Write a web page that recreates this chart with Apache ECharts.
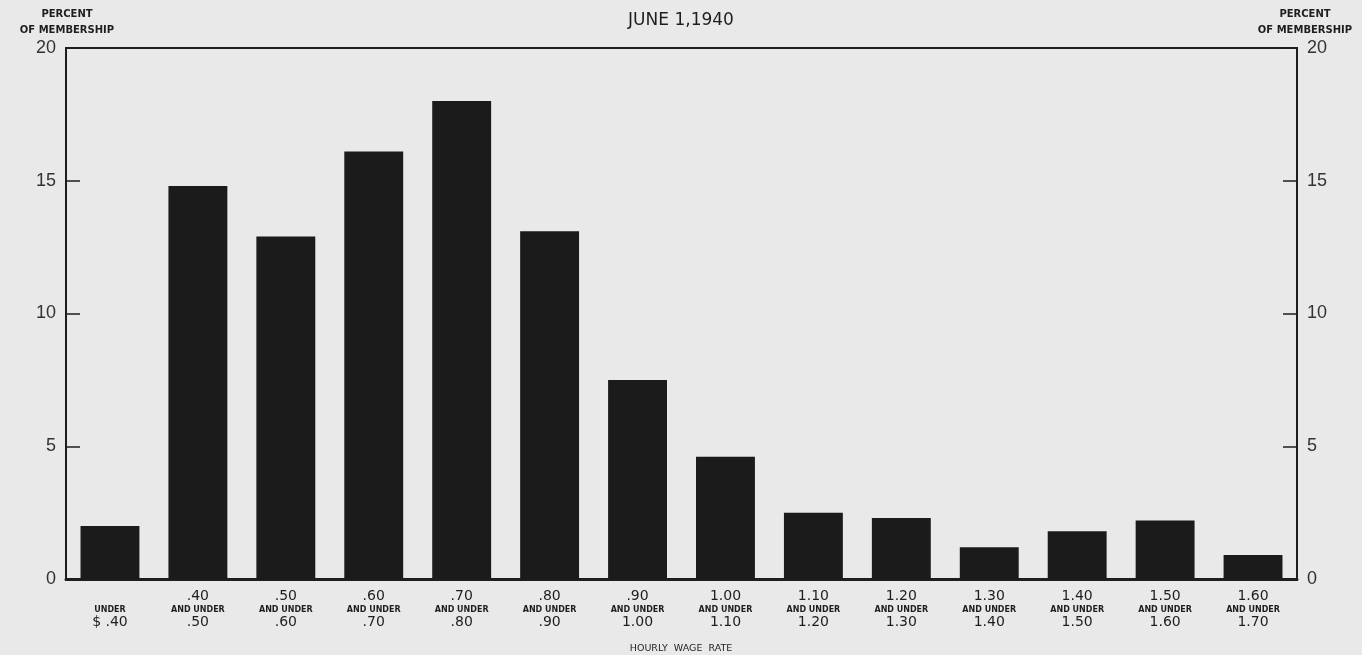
<!DOCTYPE html>
<html><head><meta charset="utf-8">
<script src="https://cdn.jsdelivr.net/npm/echarts@6/dist/echarts.min.js"></script>
<style>html,body{margin:0;padding:0;background:#e9e9e9}#c{width:1362px;height:655px}</style>
</head><body><div id="c"></div>
<script>
const lowerBounds = ['', '.40', '.50', '.60', '.70', '.80', '.90', '1.00', '1.10', '1.20', '1.30', '1.40', '1.50', '1.60'];
const upperBounds = ['$ .40', '.50', '.60', '.70', '.80', '.90', '1.00', '1.10', '1.20', '1.30', '1.40', '1.50', '1.60', '1.70'];
const percentOfMembership = [2.0, 14.8, 12.9, 16.1, 18.0, 13.1, 7.5, 4.6, 2.5, 2.3, 1.2, 1.8, 2.2, 0.9];
const yTicks = [0, 5, 10, 15, 20];

const categories = lowerBounds.map((l, i) => i === 0
  ? '{a| }\n{b|UNDER}\n{a|' + upperBounds[i] + '}'
  : '{a|' + l + '}\n{b|AND UNDER}\n{a|' + upperBounds[i] + '}');

const chart = echarts.init(document.getElementById('c'));
const font = 'Liberation Sans, DejaVu Sans, sans-serif';
const wide = 'DejaVu Sans, Liberation Sans, sans-serif';
const yAxisCommon = {
  type: 'value', min: yTicks[0], max: yTicks[yTicks.length - 1], interval: 5,
  splitLine: { show: false },
  axisLine: { show: true, lineStyle: { color: '#1e1e1e', width: 2 } },
  axisTick: { show: true, inside: true, length: 14, lineStyle: { color: '#1e1e1e', width: 1.5 } },
  axisLabel: { color: '#333', fontSize: 18, fontFamily: font, margin: 10 }
};
const sideLabel = (cx) => ({
  type: 'text', x: cx, y: 6,
  style: { text: 'PERCENT\nOF MEMBERSHIP', textAlign: 'center', fill: '#1e1e1e',
    font: 'bold 10px ' + wide, lineHeight: 16 }
});
chart.setOption({
  backgroundColor: '#e9e9e9',
  animation: false,
  title: [
    { text: 'JUNE 1,1940', left: 'center', top: 7, textStyle: { fontSize: 17, fontWeight: 'normal', color: '#1e1e1e', fontFamily: wide } },
    { text: 'HOURLY  WAGE  RATE', left: 'center', top: 639, textStyle: { fontSize: 9.5, fontWeight: 'normal', color: '#1e1e1e', fontFamily: wide } }
  ],
  graphic: [sideLabel(67), sideLabel(1305)],
  grid: { left: 66, right: 65, top: 48, bottom: 76, show: true, borderColor: '#1e1e1e', borderWidth: 2, backgroundColor: 'transparent' },
  xAxis: {
    type: 'category', data: categories,
    axisLine: { show: true, lineStyle: { color: '#1e1e1e', width: 3 } },
    axisTick: { show: false },
    axisLabel: {
      interval: 0, margin: 10, color: '#1e1e1e',
      rich: {
        a: { fontSize: 14, fontFamily: wide, color: '#1e1e1e', lineHeight: 15 },
        b: { fontSize: 8, fontWeight: 'bold', fontFamily: wide, color: '#1e1e1e', lineHeight: 11 }
      }
    }
  },
  yAxis: [
    Object.assign({}, yAxisCommon, { position: 'left' }),
    Object.assign({}, yAxisCommon, { position: 'right' })
  ],
  series: [{
    type: 'bar', data: percentOfMembership, barWidth: '67%',
    itemStyle: { color: '#1b1b1b' }
  }]
});
</script></body></html>
